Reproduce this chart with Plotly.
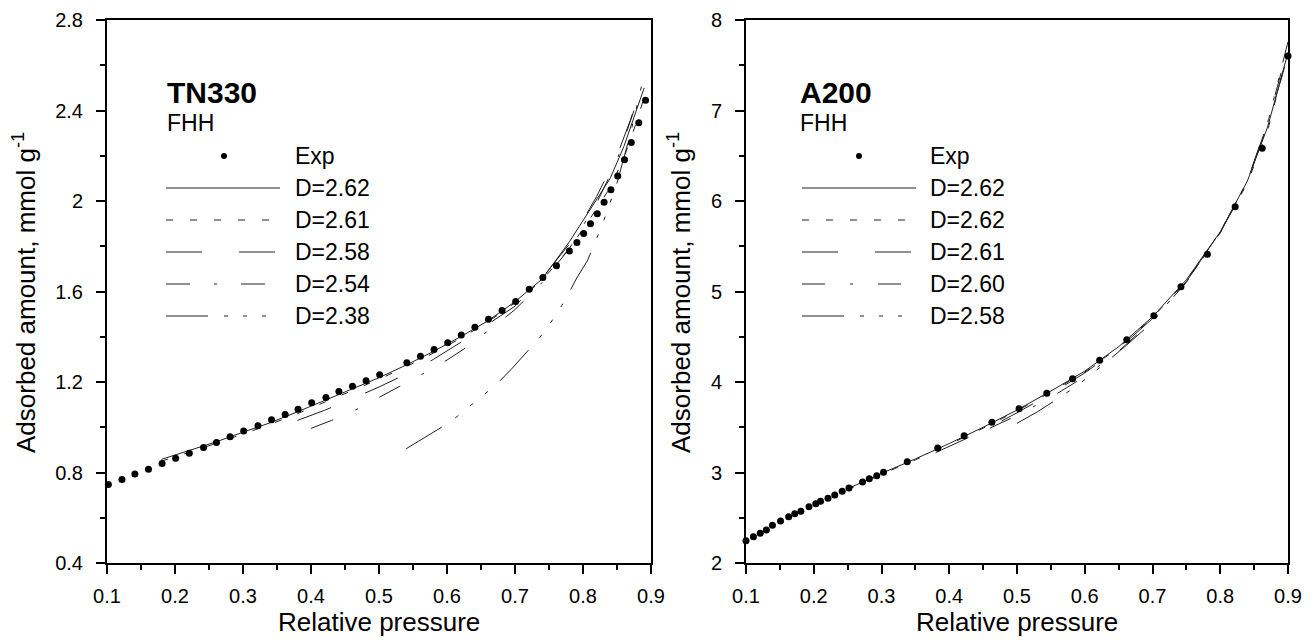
import plotly.graph_objects as go

# ---------------- data: TN330 ----------------
tn_exp_x = [0.102,0.122,0.141,0.161,0.181,0.201,0.221,0.242,0.261,0.281,0.301,0.322,0.342,0.362,0.381,
            0.401,0.422,0.441,0.461,0.481,0.501,0.541,0.561,0.581,0.601,0.621,0.641,0.661,0.681,0.701,
            0.721,0.741,0.761,0.780,0.791,0.801,0.811,0.821,0.831,0.841,0.851,0.861,0.871,0.882,0.892]
tn_exp_y = [0.747,0.769,0.793,0.814,0.840,0.863,0.885,0.910,0.933,0.958,0.983,1.007,1.033,1.056,1.080,
            1.108,1.131,1.158,1.181,1.206,1.232,1.285,1.314,1.344,1.374,1.408,1.442,1.477,1.516,1.556,
            1.610,1.662,1.714,1.779,1.817,1.856,1.899,1.944,1.994,2.050,2.110,2.182,2.259,2.346,2.445]

tn_262_x = [0.18,0.22,0.26,0.30,0.34,0.38,0.42,0.46,0.50,0.54,0.58,0.62,0.66,0.70,0.74,0.78,0.81,0.84,0.86,0.88,0.89]
tn_262_y = [0.858,0.895,0.935,0.978,1.020,1.068,1.118,1.168,1.219,1.275,1.335,1.400,1.470,1.555,1.655,1.820,1.960,2.100,2.240,2.420,2.500]
tn_261_x = [0.18,0.22,0.26,0.30,0.34,0.38,0.42,0.46,0.50,0.54,0.58,0.62,0.66,0.70,0.74,0.78,0.81,0.84,0.86,0.88,0.89]
tn_261_y = [0.850,0.888,0.928,0.970,1.013,1.060,1.110,1.160,1.212,1.268,1.328,1.393,1.465,1.550,1.650,1.790,1.920,2.060,2.190,2.360,2.460]
tn_258_x = [0.38,0.42,0.46,0.50,0.54,0.58,0.62,0.66,0.70,0.74,0.78,0.82,0.85,0.87,0.885]
tn_258_y = [1.030,1.075,1.125,1.178,1.235,1.300,1.375,1.455,1.535,1.660,1.810,2.020,2.200,2.360,2.500]
tn_254_x = [0.40,0.43,0.47,0.50,0.53,0.565,0.60,0.63,0.66,0.70,0.74,0.78,0.82,0.85,0.875]
tn_254_y = [0.995,1.030,1.083,1.131,1.178,1.237,1.297,1.356,1.425,1.520,1.640,1.790,1.990,2.180,2.400]
tn_238_x = [0.54,0.565,0.592,0.616,0.644,0.673,0.695,0.715,0.736,0.752,0.772,0.79,0.807,0.829,0.85,0.87,0.89]
tn_238_y = [0.905,0.950,1.000,1.050,1.120,1.190,1.258,1.325,1.395,1.460,1.553,1.655,1.739,1.900,2.080,2.300,2.560]

# ---------------- data: A200 ----------------
a_exp_x = [0.100,0.111,0.121,0.130,0.139,0.151,0.163,0.172,0.181,0.193,0.203,0.210,0.221,0.231,0.242,0.252,
           0.272,0.282,0.293,0.303,0.338,0.383,0.422,0.463,0.503,0.544,0.582,0.622,0.662,0.702,0.742,
           0.781,0.822,0.862,0.900]
a_exp_y = [2.246,2.291,2.328,2.365,2.416,2.464,2.512,2.545,2.571,2.622,2.655,2.682,2.715,2.751,2.792,2.829,
           2.895,2.932,2.965,3.002,3.119,3.271,3.407,3.555,3.705,3.875,4.037,4.240,4.467,4.733,5.053,
           5.411,5.937,6.582,7.602]

a_262s_x = [0.25,0.30,0.35,0.40,0.45,0.50,0.55,0.60,0.65,0.70,0.75,0.80,0.84,0.87,0.90]
a_262s_y = [2.82,2.99,3.15,3.32,3.50,3.69,3.90,4.12,4.39,4.72,5.13,5.66,6.22,6.82,7.64]
a_262d_x = [0.25,0.30,0.35,0.40,0.45,0.50,0.55,0.60,0.65,0.70,0.75,0.80,0.84,0.87,0.895]
a_262d_y = [2.81,2.98,3.14,3.31,3.49,3.68,3.89,4.11,4.38,4.71,5.12,5.65,6.20,6.78,7.50]
a_261_x = [0.38,0.42,0.45,0.50,0.55,0.60,0.65,0.70,0.75,0.80,0.84,0.87,0.895]
a_261_y = [3.22,3.36,3.46,3.66,3.87,4.10,4.37,4.70,5.11,5.65,6.22,6.84,7.48]
a_260_x = [0.46,0.50,0.55,0.60,0.65,0.70,0.75,0.80,0.84,0.87,0.895]
a_260_y = [3.49,3.63,3.83,4.06,4.34,4.68,5.10,5.65,6.22,6.87,7.56]
a_258_x = [0.50,0.53,0.555,0.581,0.609,0.637,0.662,0.70,0.726,0.76,0.80,0.84,0.87,0.90]
a_258_y = [3.544,3.67,3.79,3.92,4.077,4.25,4.409,4.66,4.906,5.22,5.66,6.22,6.86,7.76]

tn_labels = ["D=2.62", "D=2.61", "D=2.58", "D=2.54", "D=2.38"]
a_labels = ["D=2.62", "D=2.62", "D=2.61", "D=2.60", "D=2.58"]

# ---------------- styling ----------------
W, H = 1315, 640
FONT = "Arial, Liberation Sans, sans-serif"
DASHES = ["solid", "7px,17px", "36px,37px", "24px,24px,3px,24px", "42px,16px,4px,15px,4px,15px,4px,16px"]
DASHES_R = ["solid", "7px,17px", "36px,37px", "23px,25px,3px,25px", "42px,16px,4px,15px,4px,15px,4px,16px"]
LINE_COL = "#222222"

fig = go.Figure()

def add_panel(xaxis, yaxis, exp_x, exp_y, curves, dashes):
    for (cx, cy), d in zip(curves, dashes):
        fig.add_trace(go.Scatter(x=cx, y=cy, mode="lines", xaxis=xaxis, yaxis=yaxis,
                                 line=dict(color=LINE_COL, width=1, dash=d), showlegend=False,
                                 hoverinfo="skip"))
    fig.add_trace(go.Scatter(x=exp_x, y=exp_y, mode="markers", xaxis=xaxis, yaxis=yaxis,
                             marker=dict(color="black", size=7), showlegend=False, cliponaxis=False))

add_panel("x", "y", tn_exp_x, tn_exp_y,
          [(tn_262_x, tn_262_y), (tn_261_x, tn_261_y), (tn_258_x, tn_258_y),
           (tn_254_x, tn_254_y), (tn_238_x, tn_238_y)], DASHES)
add_panel("x2", "y2", a_exp_x, a_exp_y,
          [(a_262s_x, a_262s_y), (a_262d_x, a_262d_y), (a_261_x, a_261_y),
           (a_260_x, a_260_y), (a_258_x, a_258_y)], DASHES_R)

def xa(domain):
    return dict(domain=domain, range=[0.1, 0.9], dtick=0.1, tick0=0.1, showgrid=False, zeroline=False,
                showline=True, linecolor="black", linewidth=2, mirror=True,
                ticks="outside", ticklen=9, tickwidth=2, tickcolor="black",
                minor=dict(dtick=0.05, tick0=0.1, ticks="outside", ticklen=5, tickwidth=2, tickcolor="black"),
                tickfont=dict(family=FONT, size=20, color="black"), automargin=False,
                ticklabelstandoff=5)

def ya(rng, dt, anchor):
    return dict(domain=[77 / H, 1 - 20 / H], range=rng, dtick=dt, tick0=rng[0], showgrid=False,
                zeroline=False, showline=True, linecolor="black", linewidth=2, mirror=True,
                ticks="outside", ticklen=9, tickwidth=2, tickcolor="black", anchor=anchor,
                minor=dict(dtick=dt / 2, tick0=rng[0], ticks="outside", ticklen=5, tickwidth=2,
                           tickcolor="black"),
                tickfont=dict(family=FONT, size=20, color="black"), automargin=False,
                ticklabelstandoff=9)

fig.update_layout(
    width=W, height=H, margin=dict(l=0, r=0, t=0, b=0),
    paper_bgcolor="white", plot_bgcolor="white",
    xaxis=dict(**xa([107 / W, 651 / W]), anchor="y"),
    yaxis=ya([0.4, 2.8], 0.4, "x"),
    xaxis2=dict(**xa([746 / W, 1288 / W]), anchor="y2"),
    yaxis2=ya([2, 8], 1, "x2"),
    showlegend=False,
)

def px(x):
    return x / W

def py(y):
    return 1 - y / H

shapes = []
annotations = []

def legend(x_title, x_line0, x_line1, x_dot, x_label, title, labels, dashes):
    annotations.append(dict(x=px(x_title), y=py(92), xref="paper", yref="paper", text="<b>%s</b>" % title,
                            showarrow=False, xanchor="left", yanchor="middle",
                            font=dict(family=FONT, size=30, color="black")))
    annotations.append(dict(x=px(x_title), y=py(123), xref="paper", yref="paper", text="FHH",
                            showarrow=False, xanchor="left", yanchor="middle",
                            font=dict(family=FONT, size=23, color="black")))
    rows = [156, 188, 220, 252, 284, 316]
    shapes.append(dict(type="circle", xref="paper", yref="paper",
                       x0=px(x_dot - 3), x1=px(x_dot + 3), y0=py(rows[0] + 3), y1=py(rows[0] - 3),
                       fillcolor="black", line=dict(width=0)))
    annotations.append(dict(x=px(x_label), y=py(rows[0]), xref="paper", yref="paper", text="Exp",
                            showarrow=False, xanchor="left", yanchor="middle",
                            font=dict(family=FONT, size=23, color="black")))
    for r, lab, d in zip(rows[1:], labels, dashes):
        shapes.append(dict(type="line", xref="paper", yref="paper", x0=px(x_line0), x1=px(x_line1),
                           y0=py(r), y1=py(r), line=dict(color=LINE_COL, width=1, dash=d)))
        annotations.append(dict(x=px(x_label), y=py(r), xref="paper", yref="paper", text=lab,
                                showarrow=False, xanchor="left", yanchor="middle",
                                font=dict(family=FONT, size=23, color="black")))

legend(165, 166, 280, 224, 293, "TN330", tn_labels, DASHES)
legend(798, 802, 916, 859, 928, "A200", a_labels, DASHES_R)

for cx in (379, 1017):
    annotations.append(dict(x=px(cx), y=py(622), xref="paper", yref="paper", text="Relative pressure",
                            showarrow=False, xanchor="center", yanchor="middle",
                            font=dict(family=FONT, size=26, color="black")))
for cx in (24, 679):
    annotations.append(dict(x=px(cx), y=py(293), xref="paper", yref="paper",
                            text="Adsorbed amount, mmol g<sup>-1</sup>", textangle=-90,
                            showarrow=False, xanchor="center", yanchor="middle",
                            font=dict(family=FONT, size=26, color="black")))

fig.update_layout(shapes=shapes, annotations=annotations)
fig.write_html("out.html", config={"displayModeBar": False},
               post_script="document.body.style.margin='0';")
